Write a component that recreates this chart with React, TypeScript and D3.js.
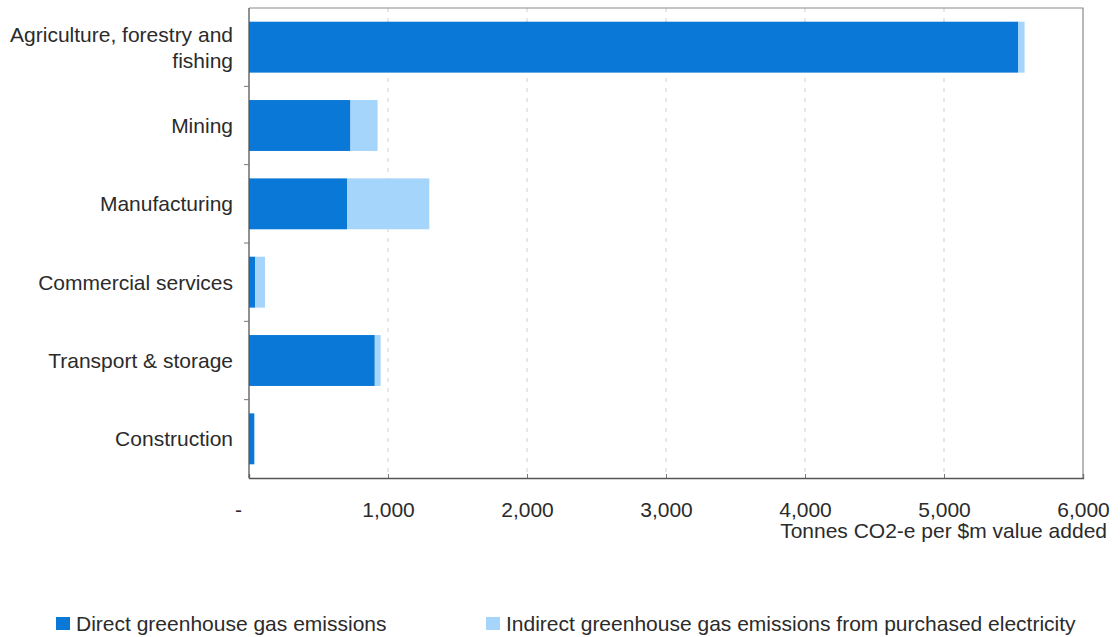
import React, { useEffect, useRef } from "react";
import * as d3 from "d3";

// Emissions intensity by industry (tonnes CO2-e per $m value added)
const categories: string[][] = [
  ["Agriculture, forestry and", "fishing"],
  ["Mining"],
  ["Manufacturing"],
  ["Commercial services"],
  ["Transport & storage"],
  ["Construction"],
];
const directEmissions = [5535, 730, 705, 45, 905, 38];
const indirectEmissions = [45, 195, 592, 70, 42, 5];
const xTicks = [0, 1000, 2000, 3000, 4000, 5000, 6000];
const seriesNames = [
  "Direct greenhouse gas emissions",
  "Indirect greenhouse gas emissions from purchased electricity",
];
const axisTitle = "Tonnes CO2-e per $m value added";

const W = 1120;
const H = 637;
const plot = { left: 249, right: 1083, top: 8, bottom: 478 };
const colors = ["#0a78d6", "#a6d5fb"];
const FONT = "'Liberation Sans', Arial, sans-serif";
const FS = 21;
const TEXT = "#2b2b2b";

export default function App() {
  const ref = useRef<SVGSVGElement>(null);

  useEffect(() => {
    const svg = d3.select(ref.current!);
    svg.selectAll("*").remove();

    const keys = categories.map((c) => c.join(" "));
    const x = d3.scaleLinear().domain([0, 6000]).range([plot.left, plot.right]);
    const y = d3
      .scaleBand<string>()
      .domain(keys)
      .range([plot.top, plot.bottom])
      .paddingInner(0.35)
      .paddingOuter(0.175);

    const g = svg.append("g");

    // dashed vertical gridlines
    g.selectAll("line.grid")
      .data(xTicks.slice(1, -1))
      .join("line")
      .attr("x1", (d) => x(d))
      .attr("x2", (d) => x(d))
      .attr("y1", plot.top)
      .attr("y2", plot.bottom)
      .attr("stroke", "#cfcfcf")
      .attr("stroke-width", 1)
      .attr("stroke-dasharray", "4,6");

    // stacked bars
    const rows = keys.map((k, i) => ({
      key: k,
      direct: directEmissions[i],
      indirect: indirectEmissions[i],
    }));
    g.selectAll("rect.direct")
      .data(rows)
      .join("rect")
      .attr("x", x(0))
      .attr("y", (d) => y(d.key)!)
      .attr("width", (d) => x(d.direct) - x(0))
      .attr("height", y.bandwidth())
      .attr("fill", colors[0]);
    g.selectAll("rect.indirect")
      .data(rows)
      .join("rect")
      .attr("x", (d) => x(d.direct))
      .attr("y", (d) => y(d.key)!)
      .attr("width", (d) => x(d.direct + d.indirect) - x(d.direct))
      .attr("height", y.bandwidth())
      .attr("fill", colors[1]);

    // frame: top and right
    g.append("path")
      .attr("d", `M${plot.left},${plot.top}H${plot.right}V${plot.bottom}`)
      .attr("fill", "none")
      .attr("stroke", "#8a8a8a")
      .attr("stroke-width", 1.2);

    // x axis
    const xAxis = g
      .append("g")
      .attr("transform", `translate(0,${plot.bottom})`)
      .call(
        d3
          .axisBottom(x)
          .tickValues(xTicks)
          .tickSize(-4)
          .tickPadding(24)
          .tickFormat((d) => (+d === 0 ? "-" : d3.format(",")(+d)))
      );
    xAxis.select(".domain").attr("stroke", "#555").attr("stroke-width", 1.3);
    xAxis.selectAll(".tick line").attr("stroke", "#777");
    xAxis
      .selectAll(".tick text")
      .attr("font-family", FONT)
      .attr("font-size", FS)
      .attr("fill", TEXT)
      .attr("dx", (d: any) => (+d === 0 ? -11 : 0));

    // y axis line and boundary ticks
    g.append("line")
      .attr("x1", plot.left)
      .attr("x2", plot.left)
      .attr("y1", plot.top)
      .attr("y2", plot.bottom)
      .attr("stroke", "#555")
      .attr("stroke-width", 1.3);
    const step = y.step();
    g.selectAll("line.ytick")
      .data(d3.range(1, keys.length))
      .join("line")
      .attr("x1", plot.left - 5)
      .attr("x2", plot.left)
      .attr("y1", (i) => plot.top + i * step)
      .attr("y2", (i) => plot.top + i * step)
      .attr("stroke", "#777");

    // category labels
    const lineH = 26;
    categories.forEach((lines, i) => {
      const cy = y(keys[i])! + y.bandwidth() / 2;
      const t = g
        .append("text")
        .attr("text-anchor", "end")
        .attr("font-family", FONT)
        .attr("font-size", FS)
        .attr("fill", TEXT);
      lines.forEach((ln, j) => {
        t.append("tspan")
          .attr("x", 233)
          .attr("y", cy + (j - (lines.length - 1) / 2) * lineH)
          .attr("dy", "0.35em")
          .text(ln);
      });
    });

    // axis title
    g.append("text")
      .attr("x", 1107)
      .attr("y", 538)
      .attr("text-anchor", "end")
      .attr("font-family", FONT)
      .attr("font-size", FS)
      .attr("fill", TEXT)
      .text(axisTitle);

    // legend
    const legendX = [56, 486];
    seriesNames.forEach((name, i) => {
      g.append("rect")
        .attr("x", legendX[i])
        .attr("y", 617)
        .attr("width", 14)
        .attr("height", 13)
        .attr("fill", colors[i]);
      g.append("text")
        .attr("x", legendX[i] + 20)
        .attr("y", 631)
        .attr("font-family", FONT)
        .attr("font-size", FS)
        .attr("fill", TEXT)
        .text(name);
    });
  }, []);

  return (
    <svg
      ref={ref}
      width={W}
      height={H}
      style={{ position: "absolute", left: 0, top: 0, background: "#fff" }}
    />
  );
}
